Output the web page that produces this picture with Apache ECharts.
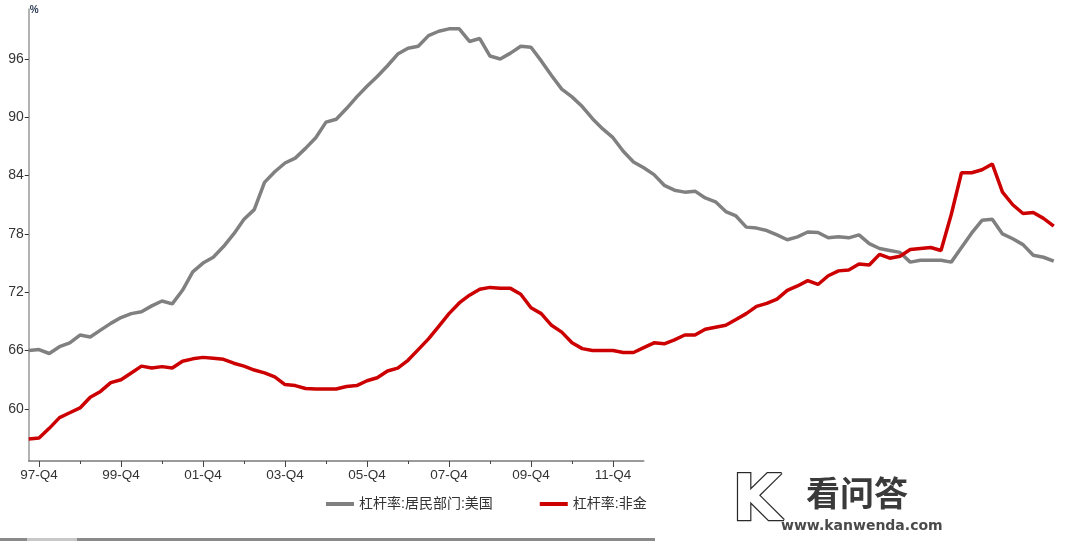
<!DOCTYPE html>
<html>
<head>
<meta charset="utf-8">
<script src="https://cdn.jsdelivr.net/npm/echarts@6/dist/echarts.min.js"></script>
<style>
html,body{margin:0;padding:0;background:#fff;}
#c{width:1080px;height:541px;}
</style>
</head>
<body>
<div id="c"></div>
<script>
// Quarterly categories, 1997-Q3 .. 2022-Q3
const firstYear = 1997, firstQuarter = 3, nQuarters = 101;
const categories = [];
for (let k = 0; k < nQuarters; k++) {
  const q = (firstQuarter - 1 + k) % 4 + 1;
  const y = firstYear + Math.floor((firstQuarter - 1 + k) / 4);
  categories.push(String(y % 100).padStart(2, '0') + '-Q' + q);
}
const seriesNames = ['杠杆率:居民部门:美国', '杠杆率:非金'];
const household = [
  66.0, 66.1, 65.7, 66.4, 66.8, 67.6, 67.4, 68.1, 68.8, 69.4,
  69.8, 70.0, 70.6, 71.1, 70.8, 72.2, 74.1, 75.0, 75.6, 76.7,
  78.0, 79.5, 80.5, 83.3, 84.4, 85.3, 85.8, 86.8, 87.9, 89.5,
  89.8, 90.9, 92.1, 93.2, 94.2, 95.3, 96.5, 97.1, 97.3, 98.4,
  98.85, 99.1, 99.1, 97.8, 98.1, 96.3, 96.0, 96.6, 97.3, 97.2,
  95.8, 94.3, 92.9, 92.1, 91.1, 89.85, 88.8, 87.9, 86.5, 85.4,
  84.8, 84.1, 83.0, 82.5, 82.3, 82.4, 81.7, 81.3, 80.3, 79.85,
  78.7, 78.6, 78.35, 77.9, 77.4, 77.7, 78.2, 78.15, 77.6, 77.7,
  77.6, 77.9, 77.0, 76.5, 76.3, 76.1, 75.1, 75.3, 75.3, 75.3,
  75.1, 76.6, 78.1, 79.4, 79.5, 78.0, 77.5, 76.9, 75.8, 75.6,
  75.2
];
const nonfin = [
  56.9, 57.0, 58.0, 59.1, 59.6, 60.1, 61.2, 61.8, 62.7, 63.0,
  63.7, 64.4, 64.2, 64.35, 64.2, 64.9, 65.15, 65.3, 65.2, 65.1,
  64.7, 64.4, 64.0, 63.7, 63.3, 62.5, 62.4, 62.1, 62.05, 62.05,
  62.05, 62.3, 62.4, 62.9, 63.2, 63.9, 64.2, 65.0, 66.1, 67.2,
  68.5, 69.8, 70.9, 71.7, 72.3, 72.5, 72.4, 72.4, 71.8, 70.4,
  69.8, 68.6, 67.9, 66.8, 66.2, 66.0, 66.0, 66.0, 65.8, 65.8,
  66.3, 66.8, 66.7, 67.1, 67.6, 67.6, 68.2, 68.4, 68.6, 69.2,
  69.8, 70.55, 70.85, 71.3, 72.2, 72.65, 73.2, 72.8, 73.7, 74.2,
  74.3, 74.9, 74.8, 75.9, 75.5, 75.7, 76.4, 76.5, 76.6, 76.3,
  80.0, 84.3, 84.3, 84.6, 85.2, 82.3, 81.0, 80.1, 80.2, 79.6,
  78.8
];
const yTicks = [60, 66, 72, 78, 84, 90, 96];
const axisCount = 61; // visible x-axis covers 97-Q3 .. 12-Q3

const chart = echarts.init(document.getElementById('c'), null, {renderer: 'canvas'});
const font = '"Liberation Sans", "Noto Sans CJK SC", sans-serif';
const gridBase = {top: 9, bottom: 80, left: 28.75};
const option = {
  backgroundColor: '#ffffff',
  animation: false,
  textStyle: {fontFamily: font},
  grid: [
    Object.assign({right: 26.25}, gridBase),
    Object.assign({width: 615}, gridBase),
    Object.assign({width: 615}, gridBase)
  ],
  legend: {
    left: 326, top: 497, padding: 0,
    itemGap: 47, itemWidth: 28, itemHeight: 4,
    textStyle: {fontSize: 14, color: '#333', fontFamily: font},
    data: [
      {name: seriesNames[0], icon: 'rect'},
      {name: seriesNames[1], icon: 'rect'}
    ]
  },
  xAxis: [
    {gridIndex: 0, type: 'category', data: categories, boundaryGap: false, show: false},
    {gridIndex: 1, type: 'category', data: categories.slice(0, axisCount), boundaryGap: false,
     axisLine: {show: true, lineStyle: {color: '#7a7a7a', width: 1.5}},
     axisTick: {show: true, length: 6, lineStyle: {color: '#444', width: 1},
       interval: function (i) { return (i - 1) % 8 === 0; }},
     axisLabel: {show: true, margin: 8, fontSize: 13.5, color: '#333', fontFamily: font,
       interval: function (i) { return (i - 1) % 8 === 0; }},
     splitLine: {show: false}},
    {gridIndex: 2, type: 'category', data: categories.slice(0, axisCount), boundaryGap: false,
     axisLine: {show: false},
     axisTick: {show: true, length: 3, lineStyle: {color: '#444', width: 1},
       interval: function (i) { return (i - 5) % 8 === 0; }},
     axisLabel: {show: false},
     splitLine: {show: false}}
  ],
  yAxis: [
    {gridIndex: 0, type: 'value', min: 54.64, max: 101.14,
     name: '%', nameLocation: 'end', nameGap: -1,
     nameTextStyle: {align: 'left', verticalAlign: 'middle', fontSize: 10, fontWeight: 'bold', color: '#2b3a55', padding: [0, 0, 0, 1]},
     axisLine: {show: true, lineStyle: {color: '#999', width: 1.5}},
     axisTick: {show: true, length: 4, inside: false, customValues: yTicks, lineStyle: {color: '#333', width: 1}},
     axisLabel: {show: true, margin: 5, fontSize: 14, color: '#333', fontFamily: font, customValues: yTicks},
     splitLine: {show: false}},
    {gridIndex: 1, type: 'value', min: 54.64, max: 101.14, show: false},
    {gridIndex: 2, type: 'value', min: 54.64, max: 101.14, show: false}
  ],
  series: [
    {name: seriesNames[0], type: 'line', xAxisIndex: 0, yAxisIndex: 0, data: household,
     showSymbol: false, symbol: 'none', color: '#808080',
     lineStyle: {color: '#808080', width: 3.5}},
    {name: seriesNames[1], type: 'line', xAxisIndex: 0, yAxisIndex: 0, data: nonfin,
     showSymbol: false, symbol: 'none', color: '#cc0000',
     lineStyle: {color: '#cc0000', width: 3.5}}
  ],
  graphic: [
    {type: 'rect', left: 0, top: 538, shape: {width: 655, height: 3}, style: {fill: '#8a8a8a'}, silent: true},
    {type: 'rect', left: 27, top: 538, shape: {width: 50, height: 3}, style: {fill: '#c8c8c8'}, silent: true},
    {type: 'text', left: 731, top: 470,
     style: {text: 'K', font: 'bold 64px "DejaVu Sans", sans-serif', fill: '#ffffff', stroke: '#2a2a2a', lineWidth: 2.5}, silent: true},
    {type: 'text', left: 806, top: 476,
     style: {text: '看问答', font: 'bold 34px "Noto Sans CJK SC", sans-serif', fill: '#3a3a3a'}, silent: true},
    {type: 'text', left: 781, top: 519,
     style: {text: 'www.kanwenda.com', font: 'bold 14px "DejaVu Sans", sans-serif', fill: '#4a4a4a'}, silent: true}
  ]
};
chart.setOption(option);
</script>
</body>
</html>
